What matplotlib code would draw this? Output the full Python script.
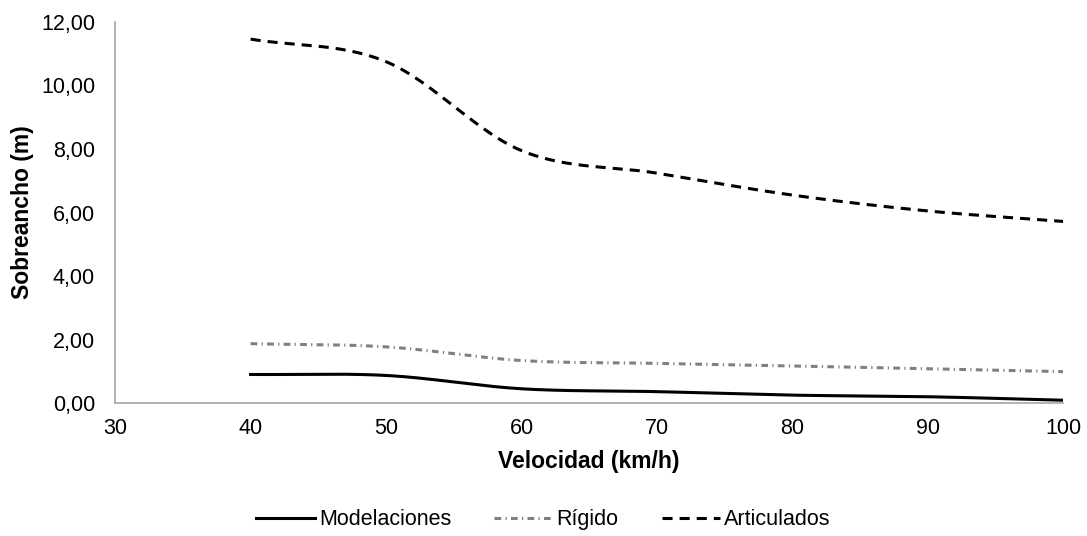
import numpy as np
import matplotlib
matplotlib.use('Agg')
import matplotlib.pyplot as plt
from matplotlib.ticker import FuncFormatter

# Data
velocidad = [40, 50, 60, 70, 80, 90, 100]
modelaciones = [0.90, 0.87, 0.45, 0.36, 0.25, 0.20, 0.09]
rigido = [1.87, 1.77, 1.34, 1.25, 1.17, 1.08, 0.99]
articulados = [11.46, 10.75, 7.95, 7.24, 6.55, 6.05, 5.72]


def smooth(x, y, n=30):
    """Catmull-Rom curve through the points (like Excel's smoothed line)."""
    x = np.asarray(x, float)
    y = np.asarray(y, float)
    px = np.concatenate([[2 * x[0] - x[1]], x, [2 * x[-1] - x[-2]]])
    py = np.concatenate([[2 * y[0] - y[1]], y, [2 * y[-1] - y[-2]]])
    xs, ys = [], []
    t = np.linspace(0, 1, n, endpoint=False)
    for i in range(1, len(px) - 2):
        for p, out in ((px, xs), (py, ys)):
            p0, p1, p2, p3 = p[i - 1], p[i], p[i + 1], p[i + 2]
            out.append(0.5 * (2 * p1 + (-p0 + p2) * t
                              + (2 * p0 - 5 * p1 + 4 * p2 - p3) * t ** 2
                              + (-p0 + 3 * p1 - 3 * p2 + p3) * t ** 3))
    xs.append([x[-1]])
    ys.append([y[-1]])
    return np.concatenate(xs), np.concatenate(ys)


plt.rcParams['font.family'] = ['Liberation Sans', 'DejaVu Sans']

fig = plt.figure(figsize=(10.87, 5.36), dpi=100)
ax = fig.add_axes([0.106, 0.248, 0.872, 0.711])

lw = 2.2
sx, sy = smooth(velocidad, modelaciones)
ax.plot(sx, sy, color='black', lw=lw, label='Modelaciones')
sx, sy = smooth(velocidad, rigido)
ax.plot(sx, sy, color='#808080', lw=lw, dashes=(2.2, 1.4, 0.4, 1.4),
        label='Rígido')
sx, sy = smooth(velocidad, articulados)
ax.plot(sx, sy, color='black', lw=lw, dashes=(3.3, 2.3), label='Articulados')

ax.set_xlim(30, 100)
ax.set_ylim(0, 12)
ax.set_xticks(range(30, 101, 10))
ax.set_yticks(range(0, 13, 2))
ax.yaxis.set_major_formatter(FuncFormatter(lambda v, p: f'{v:.2f}'.replace('.', ',')))

for side in ('top', 'right'):
    ax.spines[side].set_visible(False)
for side in ('left', 'bottom'):
    ax.spines[side].set_color('#a6a6a6')
    ax.spines[side].set_linewidth(1.2)
ax.tick_params(length=0, labelsize=15.5, colors='#000000')
ax.tick_params(axis='x', pad=11)
ax.tick_params(axis='y', pad=14.5)

ax.set_xlabel('Velocidad (km/h)', fontsize=16.5, fontweight='bold', labelpad=8)
ax.set_ylabel('Sobreancho (m)', fontsize=16.5, fontweight='bold', labelpad=5)

fig.legend(loc='center', bbox_to_anchor=(0.5, 0.03), ncol=3, frameon=False,
           fontsize=15.5, handlelength=2.7, columnspacing=2.0, handletextpad=0.2)

fig.savefig('out.png', dpi=100)
